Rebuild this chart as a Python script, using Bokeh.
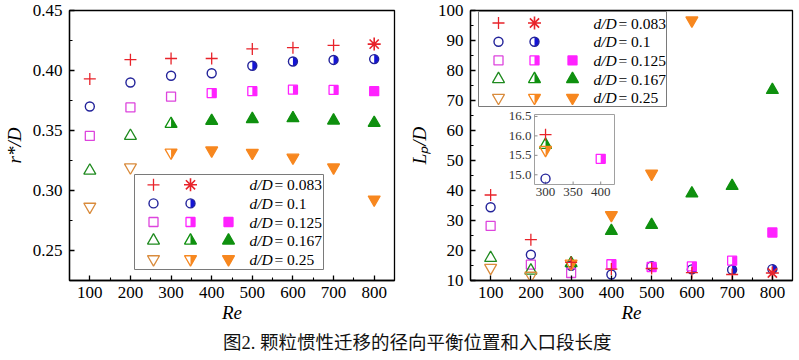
import math
from bokeh.plotting import figure
from bokeh.models import Range1d, Label, Div, FixedTicker, PrintfTickFormatter
from bokeh.layouts import row, column
from bokeh.embed import file_html
from bokeh.resources import INLINE

# ---------------- data ----------------
re_vals = [100, 200, 300, 400, 500, 600, 700, 800]
dD_names = ["0.083", "0.1", "0.125", "0.167", "0.25"]

# left panel: r*/D
r_083 = [0.393, 0.409, 0.410, 0.410, 0.418, 0.419, 0.421, 0.422]
r_100 = [0.370, 0.390, 0.3956, 0.3977, 0.404, 0.4075, 0.4088, 0.4095]
r_125 = [0.3455, 0.3692, 0.3782, 0.3812, 0.3828, 0.3840, 0.3838, 0.3828]
r_167 = [0.3165, 0.3455, 0.3555, 0.3580, 0.3595, 0.3602, 0.3583, 0.3563]
r_250 = [0.2865, 0.3193, 0.3316, 0.3334, 0.3314, 0.3274, 0.3192, 0.2925]

# right panel: Lp/D
L_083 = [38.5, 23.6, 16.03, 13.8, 14.0, 12.6, 12.0, 12.5]
L_100 = [34.4, 18.6, 14.90, 12.0, 14.8, 13.7, 13.6, 13.8]
L_125 = [28.2, 15.3, 12.5, 15.41, 14.5, 14.7, 16.6, 26.0]
L_167 = [17.5, 13.3, 15.77, 26.5, 28.5, 39.0, 41.5, 73.5]
L_250 = [14.2, 11.6, 15.64, 31.8, 45.6, 96.7, None, None]

re_ticks = [100, 200, 300, 400, 500, 600, 700, 800]
re_minor = [150, 250, 350, 450, 550, 650, 750]
r_ticks = [0.25, 0.30, 0.35, 0.40, 0.45]
r_minor = [0.275, 0.325, 0.375, 0.425]
L_ticks = [10, 20, 30, 40, 50, 60, 70, 80, 90, 100]
L_minor = [15, 25, 35, 45, 55, 65, 75, 85, 95]
inset_x_ticks = [300, 350, 400]
inset_y_ticks = [15.0, 15.5, 16.0, 16.5]

caption = "图2. 颗粒惯性迁移的径向平衡位置和入口段长度"

# ---------------- styles ----------------
RED = "#e8232a"
NAVY = "#23239a"; BLUE = "#1414d6"
MAG_L = "#dd44dd"; MAG = "#ff22ff"
GRN_L = "#1f8a1f"; GRN = "#0f900f"
ORG_L = "#d98b3c"; ORG = "#f7871f"

STYLES = [
    dict(shape="cross", full="asterisk", lc=RED, hc=RED, fc=RED, size=12, lw=1.3, states=list("ooooooof")),
    dict(shape="circle", full="circle", lc=NAVY, hc=NAVY, fc=BLUE, size=9, lw=1.4, states=list("oooohhhh")),
    dict(shape="square", full="square", lc=MAG_L, hc=MAG, fc=MAG, size=9, lw=1.3, states=list("ooohhhhf")),
    dict(shape="triangle", full="triangle", lc=GRN_L, hc=GRN, fc=GRN, size=12, lw=1.3, states=list("oohfffff")),
    dict(shape="inverted_triangle", full="inverted_triangle", lc=ORG_L, hc=ORG, fc=ORG, size=12, lw=1.3, states=list("oohfffff")),
]
DRAW_ORDER = [1, 2, 3, 4, 0]

XR = (50, 850)
FH = 270
FW1, FW2 = 325, 322
SERIF = "Liberation Serif"


def half_offsets(shape, size):
    r = size / 2.0
    if shape == "square":
        return [(0, -r), (r, -r), (r, r), (0, r)]
    H = r * math.sqrt(3)
    a = H / 3.0
    if shape == "triangle":
        return [(0, a - H), (r, a), (0, a)]
    return [(0, H - a), (r, -a), (0, -a)]


def draw_set(p, xs, ys, s, state, ux, uy, rn):
    if not xs:
        return
    if state == "o":
        p.scatter(xs, ys, marker=s["shape"], size=s["size"], line_color=s["lc"],
                  fill_color=None, line_width=s["lw"], **rn)
    elif state == "f":
        if s["full"] == "asterisk":
            p.scatter(xs, ys, marker="asterisk", size=s["size"] + 1, line_color=s["fc"],
                      line_width=s["lw"] + 0.3, **rn)
        else:
            p.scatter(xs, ys, marker=s["shape"], size=s["size"], line_color=s["fc"],
                      fill_color=s["fc"], line_width=s["lw"], **rn)
    else:
        if s["shape"] == "circle":
            p.wedge(xs, ys, radius=s["size"] / 2.0, radius_units="screen",
                    start_angle=-math.pi / 2, end_angle=math.pi / 2,
                    fill_color=s["fc"], line_color=None, **rn)
        else:
            offs = half_offsets(s["shape"], s["size"])
            pxs = [[x + dx * ux for dx, dy in offs] for x in xs]
            pys = [[y - dy * uy for dx, dy in offs] for y in ys]
            p.patches(pxs, pys, fill_color=s["fc"], line_color=None, **rn)
        p.scatter(xs, ys, marker=s["shape"], size=s["size"], line_color=s["hc"],
                  fill_color=None, line_width=s["lw"], **rn)


def draw_series(p, xvals, yvals, s, ux, uy, rn=None, keep=None):
    rn = rn or {}
    for state in ("o", "h", "f"):
        xs, ys = [], []
        for x, y, st in zip(xvals, yvals, s["states"]):
            if y is None or st != state:
                continue
            if keep is not None and not keep(x, y):
                continue
            xs.append(x); ys.append(y)
        draw_set(p, xs, ys, s, state, ux, uy, rn)


def make_fig(yr, fw, mbl, mbr, yticks, yminor, fmt, ylabel):
    p = figure(frame_width=fw, frame_height=FH, x_range=Range1d(*XR), y_range=Range1d(*yr),
               output_backend="svg", toolbar_location=None,
               min_border_left=mbl, min_border_right=mbr, min_border_top=10, min_border_bottom=44)
    p.grid.visible = False
    p.outline_line_color = "black"
    p.outline_line_width = 1.3
    p.xaxis.ticker = FixedTicker(ticks=re_ticks, minor_ticks=re_minor)
    p.yaxis.ticker = FixedTicker(ticks=yticks, minor_ticks=yminor)
    p.yaxis.formatter = PrintfTickFormatter(format=fmt)
    for ax in (p.xaxis[0], p.yaxis[0]):
        ax.major_tick_in = 5
        ax.major_tick_out = 0
        ax.minor_tick_in = 3
        ax.minor_tick_out = 0
        ax.axis_line_width = 1.3
        ax.major_tick_line_width = 1.3
        ax.minor_tick_line_width = 1.1
        ax.major_label_text_font = SERIF
        ax.major_label_text_font_size = "17px"
        ax.major_label_text_color = "black"
        ax.axis_label_text_font = SERIF
        ax.axis_label_text_font_style = "italic"
        ax.axis_label_text_font_size = "19px"
        ax.axis_label_text_color = "black"
    p.xaxis.major_label_standoff = 6
    p.yaxis.major_label_standoff = 7
    p.xaxis.axis_label_standoff = 1
    p.yaxis.axis_label_standoff = 5
    p.xaxis.axis_label = "Re"
    p.yaxis.axis_label = ylabel
    return p


def draw_legend(p, fx, fy, ux, uy, box, row_y0, row_dy, cols, text_x):
    l, r, t, b = box
    p.quad(left=[fx(l)], right=[fx(r)], top=[fy(t)], bottom=[fy(b)],
           fill_color="white", line_color="#7a7a7a", line_width=1)
    for i, s in enumerate(STYLES):
        py = row_y0 + i * row_dy
        used = []
        for st in s["states"]:
            if st not in used:
                used.append(st)
        for j, st in enumerate(used):
            draw_set(p, [fx(cols[j])], [fy(py)], s, st, ux, uy, {})
        p.add_layout(Label(x=fx(text_x), y=fy(py), text="d/D", text_font=SERIF,
                           text_font_style="italic", text_font_size="15.5px",
                           text_baseline="middle", text_align="left", text_color="black"))
        p.add_layout(Label(x=fx(text_x + 25), y=fy(py), text="= " + dD_names[i], text_font=SERIF,
                           text_font_size="15.5px", text_baseline="middle", text_align="left",
                           text_color="black"))


def conv(xr, yr, fw):
    ux = (xr[1] - xr[0]) / fw
    uy = (yr[1] - yr[0]) / FH
    return (lambda px: xr[0] + px * ux), (lambda py: yr[1] - py * uy), ux, uy


# ---------------- left panel ----------------
YR1 = (0.225, 0.45)
p1 = make_fig(YR1, FW1, 61, 11, r_ticks, r_minor, "%.2f", "r*/D")
fx1, fy1, ux1, uy1 = conv(XR, YR1, FW1)
left_data = [r_083, r_100, r_125, r_167, r_250]
for k in DRAW_ORDER:
    draw_series(p1, re_vals, left_data[k], STYLES[k], ux1, uy1)
draw_legend(p1, fx1, fy1, ux1, uy1, (65, 254, 164, 259), 174.3, 18.6, (84, 121, 159), 180)

# ---------------- right panel ----------------
YR2 = (10, 100)
p2 = make_fig(YR2, FW2, 62, 2, L_ticks, L_minor, "%d", "Lₚ/D")
fx2, fy2, ux2, uy2 = conv(XR, YR2, FW2)
right_data = [L_083, L_100, L_125, L_167, L_250]
for k in DRAW_ORDER:
    draw_series(p2, re_vals, right_data[k], STYLES[k], ux2, uy2)
draw_legend(p2, fx2, fy2, ux2, uy2, (8, 196, 1, 96), 12.5, 18.7, (28, 64, 102), 123)

# ---------------- inset (own scales mapped onto a sub-box of the frame) ----------------
IX = (280, 425)
IY = (14.75, 16.55)
ins_l, ins_r, ins_t, ins_b = 64, 144, 104, 174
ppx = (ins_r - ins_l) / (IX[1] - IX[0])
ppy = (ins_b - ins_t) / (IY[1] - IY[0])
p2.extra_x_ranges = {"ix": Range1d(IX[0] - ins_l / ppx, IX[0] + (FW2 - ins_l) / ppx)}
p2.extra_y_ranges = {"iy": Range1d(IY[1] - (FH - ins_t) / ppy, IY[1] + ins_t / ppy)}
rn = dict(x_range_name="ix", y_range_name="iy")
GRAY = "#8c8c8c"
p2.quad(left=[IX[0]], right=[IX[1]], bottom=[IY[0]], top=[IY[1]], fill_color="white",
        line_color="#a0a0a0", line_width=1, **rn)
p2.segment(x0=[IX[0]] * len(inset_y_ticks), x1=[IX[0] + 3 / ppx] * len(inset_y_ticks),
           y0=inset_y_ticks, y1=inset_y_ticks, line_color=GRAY, line_width=1, **rn)
p2.segment(x0=inset_x_ticks, x1=inset_x_ticks, y0=[IY[0]] * len(inset_x_ticks),
           y1=[IY[0] + 3 / ppy] * len(inset_x_ticks), line_color=GRAY, line_width=1, **rn)
for t in inset_y_ticks:
    p2.add_layout(Label(x=IX[0] - 3 / ppx, y=t, text="%.1f" % t, text_align="right",
                        text_baseline="middle", text_font=SERIF, text_font_size="13px",
                        text_color="#333333", **rn))
for t in inset_x_ticks:
    p2.add_layout(Label(x=t, y=IY[0] - 3 / ppy, text="%d" % t, text_align="center",
                        text_baseline="top", text_font=SERIF, text_font_size="13px",
                        text_color="#333333", **rn))
inside = lambda x, y: IX[0] <= x <= IX[1] and IY[0] <= y <= IY[1]
for k in DRAW_ORDER:
    draw_series(p2, re_vals, right_data[k], STYLES[k], 1 / ppx, 1 / ppy, rn=rn, keep=inside)

# ---------------- caption ----------------
cap = Div(text='<div style="position:relative; top:3px; margin-left:218px; white-space:nowrap; '
               'font-family:\'Liberation Serif\',\'Noto Sans CJK SC\'; '
               'font-size:18.5px; line-height:20px; color:#111;">' + caption + '</div>',
          width=783, height=20)

layout = column(row(p1, p2), cap)
open("out.html", "w").write(file_html(layout, INLINE))
